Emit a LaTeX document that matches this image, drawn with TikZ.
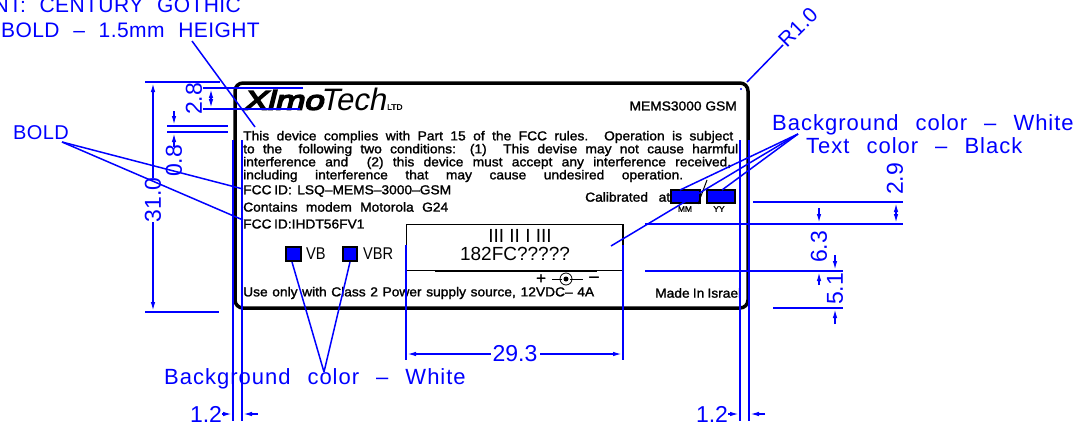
\documentclass[tikz,border=0pt]{standalone}
\usepackage{fontspec}
\usepackage{tikz}
\usetikzlibrary{arrows.meta}
\setmainfont{Liberation Sans}
\newfontfamily\cadfont[LetterSpace=4.5,WordSpace=2.4]{Liberation Sans}
\newfontfamily\capfont[LetterSpace=2,WordSpace=2.2]{Liberation Sans}
\newfontfamily\platefont[FakeBold=1.5,FakeStretch=1.06]{Liberation Sans}
\newfontfamily\logofont[FakeBold=6,FakeSlant=0.25,FakeStretch=1.3]{Liberation Sans}
\newfontfamily\thinfont[FakeSlant=0.2]{Liberation Sans}
\newfontfamily\narrowfont[FakeStretch=0.86]{Liberation Sans}
\definecolor{cadblue}{RGB}{0,0,255}
\tikzset{
  dimline/.style={cadblue, line width=1.5pt},
  dimarrow/.style={dimline, -{Latex[length=9pt,width=4.5pt]}},
  note/.style={cadblue, inner sep=0pt, font=\cadfont\fontsize{22}{22}\selectfont},
  capnote/.style={cadblue, inner sep=0pt, font=\capfont\fontsize{21}{21}\selectfont},
  dimtext/.style={cadblue, inner sep=0pt, font=\fontsize{23}{23}\selectfont},
  plate/.style={black, inner sep=0pt, anchor=west, font=\platefont\fontsize{13}{13}\selectfont},
}
\begin{document}
\begin{tikzpicture}[x=1pt,y=-1pt]
\useasboundingbox (0,0) rectangle (1081,439);

% nameplate outline
\draw[black, line width=3.5pt, rounded corners=8pt] (235,83) rectangle (748,308);
\draw[black, line width=1pt] (406,224) rectangle (623,270);
\draw[black, line width=2.5pt] (623,224)--(623,270);
\draw[black, line width=2pt] (435,271)--(597,271);

% logo
\node[black, inner sep=0pt, anchor=west](LogoA) at (243,100){\logofont\fontsize{27}{27}\selectfont Xlmo};
\node[black, inner sep=0pt, anchor=west](LogoB) at (320,99){\thinfont\fontsize{31}{31}\selectfont Tech};
\node[black, inner sep=0pt, anchor=west](LogoC) at (387,107){\platefont\fontsize{8}{8}\selectfont LTD};
\node[plate, anchor=east](Model) at (737,106){MEMS3000 GSM};

% plate text
\node[plate](L1) at (243,137){\makebox[490pt][s]{This device complies with Part 15 of the FCC rules. Operation is subject}};
\node[plate](L2) at (243,150){\makebox[495pt][s]{to the\ \ following two conditions: (1)\ \ This devise may not cause harmful}};
\node[plate](L3) at (243,163){\makebox[488pt][s]{interference and\ \ (2) this device must accept any interference received,}};
\node[plate](L4) at (243,176){\makebox[440pt][s]{including\ \ interference\ \ that\ \ may\ \ cause\ \ undesired\ \ operation.}};
\node[plate](L5) at (243,191){\makebox[208pt][s]{FCC ID:\ \ LSQ–MEMS–3000–GSM}};
\node[plate](L6) at (243,207){\makebox[205pt][s]{Contains modem Motorola G24}};
\node[plate](L7) at (243,224){\makebox[116pt][s]{FCC ID:IHDT56FV1}};
\node[plate](L8) at (243,293){\makebox[351pt][s]{Use only with Class 2 Power supply source, 12VDC– 4A}};
\node[plate](L9) at (655,293){\makebox[86pt][s]{Made In Israel}};

% coloured fields
\draw[black, fill=cadblue, line width=1.2pt] (286,247) rectangle (301,261);
\draw[black, fill=cadblue, line width=1.2pt] (343,247) rectangle (357,261);
\draw[black, fill=cadblue, line width=1.2pt] (671,190) rectangle (700,203);
\draw[black, fill=cadblue, line width=1.2pt] (707,190) rectangle (735,203);
\draw[black, line width=1pt] (698,204)--(707,180);
\node[plate](Calib) at (585,197){\makebox[85pt][s]{Calibrated at}};
\node[plate, anchor=center, font=\platefont\fontsize{8}{8}\selectfont](MM) at (685,209){MM};
\node[plate, anchor=center, font=\platefont\fontsize{8}{8}\selectfont](YY) at (719,209){YY};
\node[black, inner sep=0pt, anchor=west, font=\narrowfont\fontsize{17}{17}\selectfont](VB) at (306,254){VB};
\node[black, inner sep=0pt, anchor=west, font=\narrowfont\fontsize{17}{17}\selectfont](VBR) at (363,254){VBR};

% barcode field
\node[black, inner sep=0pt, font=\fontsize{19}{19}\selectfont](Bars) at (520,236){III II I III};
\node[black, inner sep=0pt, font=\fontsize{19}{19}\selectfont](Serial) at (515,254){182FC?????};
\node[black, inner sep=0pt, font=\platefont\fontsize{16}{16}\selectfont](Plus) at (541,279){+};
\node[black, inner sep=0pt, font=\platefont\fontsize{16}{16}\selectfont](Minus) at (594,279){–};
\draw[black, line width=0.8pt] (566,279) circle (6);
\fill[black] (566,279) circle (2.5);
\draw[black, line width=0.8pt] (552,279)--(562,279);
\draw[black, line width=0.8pt] (570,279)--(583,279);

% notes
\node[capnote, anchor=east](N1) at (241,5){FONT: CENTURY GOTHIC};
\node[capnote, anchor=east](N2) at (260,30){BOLD – 1.5mm HEIGHT};
\node[capnote, anchor=west, font=\capfont\fontsize{20}{20}\selectfont](N3) at (13,133){BOLD};
\node[note, anchor=west](N4) at (772,125){Background color – White};
\node[note, anchor=west](N5) at (806,146){Text color – Black};
\node[note, anchor=west](N6) at (164,379){Background color – White};
\node[capnote, rotate=45](N7) at (798,27){R1.0};

% leaders
\draw[dimline] (192,41)--(255,127);
\draw[dimline] (62,142)--(243,189);
\draw[dimline] (62,142)--(243,220);
\draw[dimline] (798,134)--(680,190);
\draw[dimline] (798,134)--(722,190);
\draw[dimline] (798,134)--(611,246);
\draw[dimline] (292,262)--(324,372);
\draw[dimline] (350,262)--(324,372);
\draw[dimline] (783,45)--(747,82);
\fill[cadblue] (741,89) circle (1.2);

% extension lines
\draw[dimline] (145,82)--(220,82);
\draw[dimline] (145,312)--(219,312);
\draw[dimline] (203,88)--(303,88);
\draw[dimline] (203,109)--(300,109);
\draw[dimline] (167,126)--(228,126);
\draw[dimline] (167,132)--(228,132);
\draw[dimline] (233,140)--(233,421);
\draw[dimline] (242,140)--(242,421);
\draw[dimline] (740,140)--(740,421);
\draw[dimline] (749,140)--(749,421);
\draw[dimline] (406,245)--(406,360);
\draw[dimline] (623,245)--(623,360);
\draw[dimline] (753,202)--(903,202);
\draw[dimline] (645,224)--(903,224);
\draw[dimline] (645,271)--(843,271);
\draw[dimline] (773,308)--(843,308);

% dimensions
\draw[dimarrow] (153,178)--(153,83);
\draw[dimarrow] (153,222)--(153,311);
\node[dimtext, rotate=90](D1) at (153,200){31.0};
\draw[dimarrow] (211,99)--(211,89);
\draw[dimarrow] (211,99)--(211,108);
\node[dimtext, rotate=90](D2) at (194,99){2.8};
\draw[dimarrow] (174,111)--(174,125);
\draw[dimarrow] (174,147)--(174,133);
\node[dimtext, rotate=90](D3) at (174,161){0.8};
\draw[dimarrow] (896,213)--(896,203);
\draw[dimarrow] (896,213)--(896,223);
\node[dimtext, rotate=90](D4) at (895,179){2.9};
\draw[dimarrow] (819,208)--(819,223);
\draw[dimarrow] (819,285)--(819,272);
\node[dimtext, rotate=90](D5) at (819,247){6.3};
\draw[dimarrow] (835,255)--(835,270);
\draw[dimarrow] (835,324)--(835,309);
\node[dimtext, rotate=90](D6) at (835,289){5.1};
\draw[dimarrow] (491,354)--(407,354);
\draw[dimarrow] (540,354)--(622,354);
\node[dimtext](D7) at (515,354){29.3};
\draw[dimarrow] (222,414)--(232,414);
\draw[dimarrow] (258,414)--(243,414);
\node[dimtext](D8) at (206,414){1.2};
\draw[dimarrow] (728,414)--(739,414);
\draw[dimarrow] (765,414)--(750,414);
\node[dimtext](D9) at (712,414){1.2};
\end{tikzpicture}
\end{document}
